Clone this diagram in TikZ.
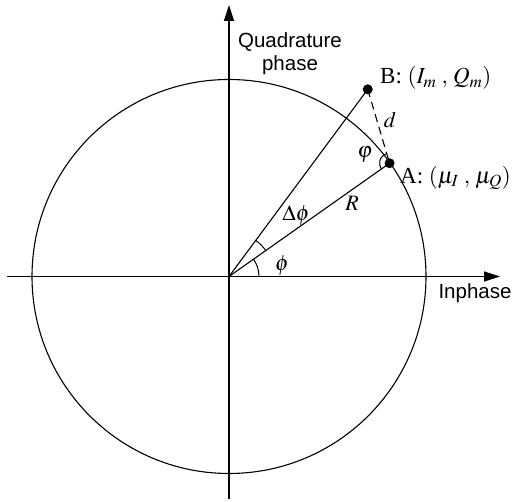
\documentclass[tikz,border=0pt]{standalone}
\usepackage{mathptmx}
\usepackage[no-math]{fontspec}
\setmainfont{Liberation Serif}
\newfontfamily\axisfont{Liberation Sans}
\usetikzlibrary{arrows.meta,calc,positioning}

\begin{document}
\begin{tikzpicture}[
  x=1pt,
  y=1pt,
  axis/.style={line width=1.2pt,-{Triangle[length=16pt,width=10pt]}},
  ray/.style={line width=1.1pt},
  dot/.style={circle,fill=black,inner sep=0pt,minimum size=10pt},
  anglearc/.style={line width=1pt},
  axislabel/.style={
    font=\axisfont\fontsize{20.5}{23}\selectfont,
    align=center,
    inner sep=1pt
  },
  mathlabel/.style={font=\fontsize{22}{25}\selectfont,inner sep=1pt},
  pointlabel/.style={
    font=\fontsize{23}{26}\selectfont,
    inner sep=0pt,
    anchor=west
  }
]
\useasboundingbox (-229,-225.5) rectangle (285,276.5);

% Origin and the two points
\coordinate (O) at (0,0);
\coordinate (A) at (35.2:196.5);
\coordinate (B) at (53.45:233);

% Axis end points
\coordinate (xs) at (-222,0);
\coordinate (xe) at (271,0);
\coordinate (ys) at (0,-222.5);
\coordinate (ye) at (0,271.5);

% Axes
\draw[axis] (xs)--(xe);
\draw[axis] (ys)--(ye);

% Circle of radius R
\draw[line width=1.1pt] (O) circle (197);

% Rays and distance
\draw[ray] (O)--(A);
\draw[ray] (O)--(B);
\draw[ray,dash pattern=on 8pt off 5pt] (B)--(A);

% Angle arcs
\draw[anglearc] (30,0) arc (0:35.2:30);
\draw[anglearc] (35.2:45) arc (35.2:53.45:45);
\draw[anglearc] ($(A)+(106.5:10)$) arc (106.5:215.2:10);

% Points
\foreach \P in {A,B}
  \node[dot] (dot\P) at (\P) {};

% Axis labels
\node[axislabel] (quadlabel) at (61,223) {Quadrature\\phase};
\node[axislabel] (inlabel) at (246,-16.5) {Inphase};

% Point labels
\node[pointlabel] (blabel) at (151,198.5)
  {B: $(I_m\;,\,Q_m)$};
\node[pointlabel] (alabel) at (171,98.5)
  {A: $(\mu_I\;,\,\mu_Q)$};

% Angle and length labels
\node[mathlabel] (dlabel) at (161,156.5) {$d$};
\node[mathlabel] (varphilabel) at (136,122) {$\varphi$};
\node[mathlabel] (rlabel) at (123,73.5) {$R$};
\node[mathlabel] (dphilabel) at (67,61) {$\Delta\phi$};
\node[mathlabel] (philabel) at (53,10.5) {$\phi$};

\end{tikzpicture}
\end{document}
